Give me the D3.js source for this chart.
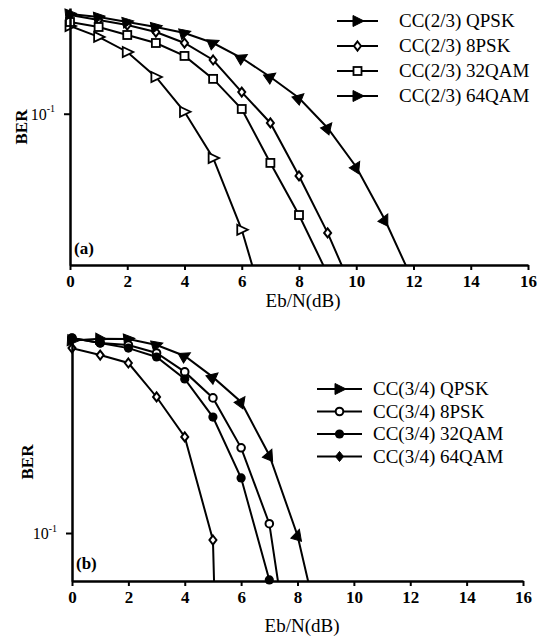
<!DOCTYPE html>
<html><head><meta charset="utf-8">
<script src="https://cdn.jsdelivr.net/npm/d3@7"></script>
<style>body{margin:0;background:#fff} svg{display:block} text{font-family:"Liberation Serif","Times New Roman",serif;fill:#000}</style>
</head><body><svg id="c" width="537" height="639"></svg>
<script>
// ---- data ----
const snrDb = [0,1,2,3,4,5,6,7,8,9,10,11,12];
const xTicks = [0,2,4,6,8,10,12,14,16];
const yTicks = [0.1];
const topLabels = ["CC(2/3) QPSK","CC(2/3) 8PSK","CC(2/3) 32QAM","CC(2/3) 64QAM"];
const botLabels = ["CC(3/4) QPSK","CC(3/4) 8PSK","CC(3/4) 32QAM","CC(3/4) 64QAM"];
const top_QPSK  = [0.380,0.322,0.256,0.175,0.103,0.051,0.0171,0.0039];
const top_8PSK  = [0.45,0.417,0.386,0.347,0.2935,0.2266,0.139,0.0869,0.0388,0.0163,0.006];
const top_32QAM = [0.404,0.3745,0.3315,0.2935,0.241,0.170,0.1075,0.0473,0.0214,0.0087];
const top_64QAM = [0.456,0.436,0.404,0.3745,0.342,0.2935,0.2336,0.175,0.127,0.0805,0.0445,0.0199,0.0077];
const bot_QPSK  = [0.49,0.497,0.496,0.472,0.431,0.362,0.295,0.190,0.098,0.036];
const bot_8PSK  = [0.5,0.48,0.472,0.442,0.378,0.305,0.202,0.108,0.023];
const bot_32QAM = [0.5,0.48,0.46,0.4275,0.3565,0.2604,0.1575,0.0679];
const bot_64QAM = [0.46,0.4345,0.4068,0.3073,0.2209,0.0944,0.000016];

const svg = d3.select("#c");
const SERIF = '"Liberation Serif","Times New Roman",serif';

function marker(g, type, x, y, ang) {
  if (type === "triOpen") {
    g.append("path").attr("d","M-4.5,-5 L6,0 L-4.5,5 Z").attr("transform",`translate(${x},${y})`)
      .attr("fill","#fff").attr("stroke","#000").attr("stroke-width",1.8);
  } else if (type === "triFill") {
    g.append("path").attr("d","M-4.5,-5.5 L6.5,0 L-4.5,5.5 Z").attr("transform",`translate(${x},${y}) rotate(${ang||0})`)
      .attr("fill","#000").attr("stroke","#000").attr("stroke-width",1);
  } else if (type === "diamond") {
    g.append("path").attr("d","M0,-4.5 L3.5,0 L0,4.5 L-3.5,0 Z").attr("transform",`translate(${x},${y})`)
      .attr("fill","#fff").attr("stroke","#000").attr("stroke-width",2);
  } else if (type === "diamondFill") {
    g.append("path").attr("d","M0,-5 L4,0 L0,5 L-4,0 Z").attr("transform",`translate(${x},${y})`)
      .attr("fill","#000").attr("stroke","#000").attr("stroke-width",1);
  } else if (type === "square") {
    g.append("rect").attr("x",x-4).attr("y",y-4).attr("width",8).attr("height",8)
      .attr("fill","#fff").attr("stroke","#000").attr("stroke-width",1.8);
  } else if (type === "circleOpen") {
    g.append("circle").attr("cx",x).attr("cy",y).attr("r",3.8)
      .attr("fill","#fff").attr("stroke","#000").attr("stroke-width",2);
  } else if (type === "circleFill") {
    g.append("circle").attr("cx",x).attr("cy",y).attr("r",4.6).attr("fill","#000");
  }
}

function panel(cfg) {
  const x = d3.scaleLinear().domain([0,16]).range(cfg.xr);
  const y = d3.scaleLog().domain(cfg.yd).range(cfg.yr);
  const g = svg.append("g");
  const clipId = "clip" + cfg.id;
  g.append("clipPath").attr("id", clipId).append("rect")
    .attr("x", cfg.xr[0]).attr("y", cfg.yr[1]-10).attr("width", cfg.xr[1]-cfg.xr[0]).attr("height", cfg.yr[0]-cfg.yr[1]+10);

  const line = d3.line().x((d,i)=>x(snrDb[i])).y(d=>y(d));
  cfg.series.forEach(s => {
    g.append("path").datum(s.values).attr("d", line).attr("clip-path",`url(#${clipId})`)
      .attr("fill","none").attr("stroke","#000").attr("stroke-width",2);
  });
  cfg.series.forEach(s => {
    s.values.forEach((v,i) => {
      if (v < cfg.yd[0]*0.99 || v > cfg.yd[1]*1.02) return;
      const px = x(snrDb[i]), py = y(v);
      let ang = 0;
      if (s.rot) {
        const j = Math.min(i+1, s.values.length-1), k = Math.max(i-1,0);
        const dx = x(snrDb[j]) - x(snrDb[k]);
        const dy = Math.min(y(s.values[j]), cfg.yr[0]+60) - y(s.values[k]);
        ang = -Math.atan2(dy, dx) * 180 / Math.PI;
      }
      marker(g, s.marker, px, py, ang);
    });
  });

  const xa = g.append("g").attr("transform",`translate(0,${cfg.yr[0]})`)
    .call(d3.axisBottom(x).tickValues(xTicks).tickSize(5).tickSizeOuter(0).tickPadding(5).tickFormat(d3.format("d")));
  xa.attr("font-family", SERIF);
  xa.select(".domain").attr("stroke-width",2.5);
  xa.selectAll(".tick line").attr("stroke-width",2);
  xa.selectAll(".tick text").style("font-family", SERIF).attr("font-size",17).attr("font-weight","bold");

  const ya = g.append("g").attr("transform",`translate(${cfg.xr[0]},0)`)
    .call(d3.axisLeft(y).tickValues(yTicks).tickSize(6).tickSizeOuter(0).tickPadding(9).tickFormat(()=>""));
  ya.attr("font-family", SERIF);
  ya.select(".domain").attr("stroke-width",2.5);
  ya.selectAll(".tick line").attr("stroke-width",2);
  ya.selectAll(".tick text").style("font-family", SERIF).attr("font-size",16).attr("dy","0.35em")
    .each(function(){ const t=d3.select(this); t.append("tspan").text("10"); t.append("tspan").attr("font-size",10).attr("dy","-0.75em").text("-1"); });

  g.append("text").attr("transform",`translate(${cfg.berX},${cfg.berY}) rotate(-90)`)
    .attr("text-anchor","middle").attr("font-size",17).attr("font-weight","bold").text("BER");
  g.append("text").attr("x", cfg.titleX).attr("y", cfg.titleY).attr("text-anchor","middle")
    .attr("font-size",19).text("Eb/N(dB)");
  g.append("text").attr("x", cfg.xr[0]+4).attr("y", cfg.tagY).attr("font-size",17).attr("font-weight","bold").text(cfg.tag);

  // legend
  const lg = g.append("g");
  cfg.series.forEach((s,i) => {
    const ly = cfg.leg.y0 + i*cfg.leg.dy;
    lg.append("line").attr("x1",cfg.leg.x1).attr("x2",cfg.leg.x2).attr("y1",ly).attr("y2",ly)
      .attr("stroke","#000").attr("stroke-width",2);
    marker(lg, s.legMarker || s.marker, (cfg.leg.x1+cfg.leg.x2)/2, ly, 0);
    lg.append("text").attr("x",cfg.leg.tx).attr("y",ly).attr("dy","0.34em").attr("font-size",19).text(cfg.labels[i]);
  });
}

panel({id:"a", xr:[70,528], yr:[265,8], yd:[0.01,0.5], tag:"(a)", tagY:254,
  berX:27, berY:127, titleX:303, titleY:307, labels: topLabels,
  leg:{x1:337,x2:378,tx:399,y0:21,dy:25},
  series:[
    {values: top_QPSK, marker:"triOpen", legMarker:"triFill"},
    {values: top_8PSK, marker:"diamond"},
    {values: top_32QAM, marker:"square"},
    {values: top_64QAM, marker:"triFill", rot:true}
  ]});

panel({id:"b", xr:[72,523], yr:[581,338], yd:[0.0673,0.5], tag:"(b)", tagY:569,
  berX:33, berY:462, titleX:302, titleY:632, labels: botLabels,
  leg:{x1:317,x2:362,tx:373,y0:389,dy:22.5},
  series:[
    {values: bot_QPSK, marker:"triFill", rot:true, legMarker:"triFill"},
    {values: bot_8PSK, marker:"circleOpen"},
    {values: bot_32QAM, marker:"circleFill"},
    {values: bot_64QAM, marker:"diamond", legMarker:"diamondFill"}
  ]});
</script></body></html>
